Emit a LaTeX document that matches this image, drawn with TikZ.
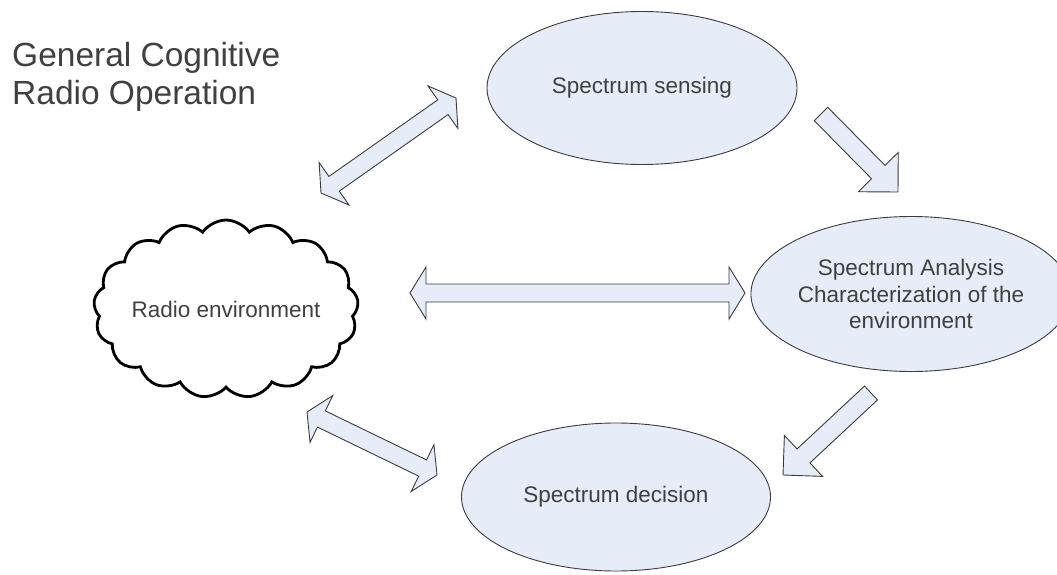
\documentclass[tikz,border=0pt]{standalone}
\usepackage{fontspec}
\setmainfont{Liberation Sans}
\usetikzlibrary{shapes.geometric,shapes.symbols,calc}
\definecolor{paleblue}{RGB}{230,236,248}
\definecolor{edgegray}{RGB}{60,60,60}
\definecolor{textgray}{RGB}{64,64,64}
\tikzset{
  stage/.style={ellipse, draw=edgegray, fill=paleblue, line width=0.9pt,
    text=textgray, font=\fontsize{22.5}{26.5}\selectfont, align=center, inner sep=0pt},
  double block/.style={draw=edgegray, fill=paleblue, line width=0.9pt, line join=miter,
    to path={
      -- ($($(\tikztostart)!16pt!(\tikztotarget)$)!26pt!90:(\tikztotarget)$)
      -- ($($(\tikztostart)!16pt!(\tikztotarget)$)!9pt!90:(\tikztotarget)$)
      -- ($($(\tikztotarget)!16pt!(\tikztostart)$)!9pt!-90:(\tikztostart)$)
      -- ($($(\tikztotarget)!16pt!(\tikztostart)$)!26pt!-90:(\tikztostart)$)
      -- (\tikztotarget)
      -- ($($(\tikztotarget)!16pt!(\tikztostart)$)!26pt!90:(\tikztostart)$)
      -- ($($(\tikztotarget)!16pt!(\tikztostart)$)!9pt!90:(\tikztostart)$)
      -- ($($(\tikztostart)!16pt!(\tikztotarget)$)!9pt!-90:(\tikztotarget)$)
      -- ($($(\tikztostart)!16pt!(\tikztotarget)$)!26pt!-90:(\tikztotarget)$)
      -- cycle}},
  single block/.style={draw=edgegray, fill=paleblue, line width=0.9pt, line join=miter,
    to path={
      ($(\tikztostart)!9.5pt!90:(\tikztotarget)$)
      -- ($($(\tikztotarget)!28pt!(\tikztostart)$)!9.5pt!-90:(\tikztostart)$)
      -- ($($(\tikztotarget)!28pt!(\tikztostart)$)!28pt!-90:(\tikztostart)$)
      -- (\tikztotarget)
      -- ($($(\tikztotarget)!28pt!(\tikztostart)$)!28pt!90:(\tikztostart)$)
      -- ($($(\tikztotarget)!28pt!(\tikztostart)$)!9.5pt!90:(\tikztostart)$)
      -- ($(\tikztostart)!9.5pt!-90:(\tikztotarget)$)
      -- cycle}}
}
\begin{document}
\begin{tikzpicture}[x=1pt,y=-1pt]
  \useasboundingbox (0,0) rectangle (1057,575);
  \node[anchor=base west, align=left, inner sep=0pt, text=textgray,
    font=\fontsize{33.5}{38.5}\selectfont] (title) at (12,105) {General Cognitive\\Radio Operation};
  \node[stage, minimum width=310pt, minimum height=153pt] (sense) at (642,88) {Spectrum sensing};
  \node[stage, minimum width=284pt, minimum height=155pt] (analysis) at (911,294)
    {Spectrum Analysis\\Characterization of the\\environment};
  \node[stage, minimum width=309pt, minimum height=148pt] (decide) at (616,497) {Spectrum decision};
  \node[cloud, draw=black, fill=white, line width=2.8pt, cloud puffs=17, cloud puff arc=110,
    cloud ignores aspect, minimum width=230pt, minimum height=178pt, inner sep=0pt,
    text=textgray, font=\fontsize{22.5}{26.5}\selectfont] (env) at (226,309) {Radio environment};
  \coordinate (envT) at (321,193);
  \coordinate (senseL) at (456,98);
  \coordinate (envR) at (410,293);
  \coordinate (analysisL) at (745,293);
  \coordinate (envB) at (307,412);
  \coordinate (decideL) at (437,475);
  \coordinate (senseR) at (821,114);
  \coordinate (analysisT) at (898,192);
  \coordinate (analysisB) at (871,393);
  \coordinate (decideR) at (783,475);
  \draw[double block] (envT) to (senseL);
  \draw[double block] (envR) to (analysisL);
  \draw[double block] (envB) to (decideL);
  \draw[single block] (senseR) to (analysisT);
  \draw[single block] (analysisB) to (decideR);
\end{tikzpicture}
\end{document}
